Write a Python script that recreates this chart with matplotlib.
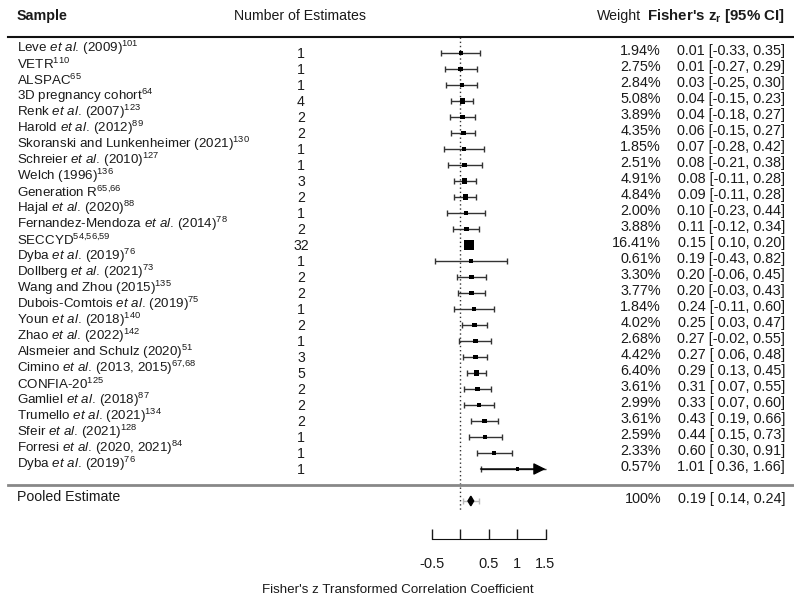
import matplotlib.pyplot as plt
import numpy as np
from matplotlib.transforms import blended_transform_factory

plt.rcParams['font.family'] = ['Liberation Sans', 'DejaVu Sans']
plt.rcParams['mathtext.fontset'] = 'custom'
plt.rcParams['mathtext.rm'] = 'Liberation Sans'
plt.rcParams['mathtext.it'] = 'Liberation Sans:italic'
plt.rcParams['mathtext.bf'] = 'Liberation Sans:bold'

# study data
studies = [
    r"Leve $\mathit{et\ al.}\,\mathrm{(2009)}^{101}$",
    r"VETR$^{110}$",
    r"ALSPAC$^{65}$",
    r"3D pregnancy cohort$^{64}$",
    r"Renk $\mathit{et\ al.}\,\mathrm{(2007)}^{123}$",
    r"Harold $\mathit{et\ al.}\,\mathrm{(2012)}^{89}$",
    r"Skoranski and Lunkenheimer (2021)$^{130}$",
    r"Schreier $\mathit{et\ al.}\,\mathrm{(2010)}^{127}$",
    r"Welch (1996)$^{136}$",
    r"Generation R$^{65{,}66}$",
    r"Hajal $\mathit{et\ al.}\,\mathrm{(2020)}^{88}$",
    r"Fernandez-Mendoza $\mathit{et\ al.}\,\mathrm{(2014)}^{78}$",
    r"SECCYD$^{54{,}56{,}59}$",
    r"Dyba $\mathit{et\ al.}\,\mathrm{(2019)}^{76}$",
    r"Dollberg $\mathit{et\ al.}\,\mathrm{(2021)}^{73}$",
    r"Wang and Zhou (2015)$^{135}$",
    r"Dubois-Comtois $\mathit{et\ al.}\,\mathrm{(2019)}^{75}$",
    r"Youn $\mathit{et\ al.}\,\mathrm{(2018)}^{140}$",
    r"Zhao $\mathit{et\ al.}\,\mathrm{(2022)}^{142}$",
    r"Alsmeier and Schulz (2020)$^{51}$",
    r"Cimino $\mathit{et\ al.}\,\mathrm{(2013{,}\ 2015)}^{67{,}68}$",
    r"CONFIA-20$^{125}$",
    r"Gamliel $\mathit{et\ al.}\,\mathrm{(2018)}^{87}$",
    r"Trumello $\mathit{et\ al.}\,\mathrm{(2021)}^{134}$",
    r"Sfeir $\mathit{et\ al.}\,\mathrm{(2021)}^{128}$",
    r"Forresi $\mathit{et\ al.}\,\mathrm{(2020{,}\ 2021)}^{84}$",
    r"Dyba $\mathit{et\ al.}\,\mathrm{(2019)}^{76}$",
]
n_estimates = [1, 1, 1, 4, 2, 2, 1, 1, 3, 2, 1, 2, 32, 1, 2, 2, 1, 2, 1, 3, 5, 2, 2, 2, 1, 1, 1]
weights = [1.94, 2.75, 2.84, 5.08, 3.89, 4.35, 1.85, 2.51, 4.91, 4.84, 2.00, 3.88, 16.41,
           0.61, 3.30, 3.77, 1.84, 4.02, 2.68, 4.42, 6.40, 3.61, 2.99, 3.61, 2.59, 2.33, 0.57]
est = [0.01, 0.01, 0.03, 0.04, 0.04, 0.06, 0.07, 0.08, 0.08, 0.09, 0.10, 0.11, 0.15, 0.19,
       0.20, 0.20, 0.24, 0.25, 0.27, 0.27, 0.29, 0.31, 0.33, 0.43, 0.44, 0.60, 1.01]
ci_lo = [-0.33, -0.27, -0.25, -0.15, -0.18, -0.15, -0.28, -0.21, -0.11, -0.11, -0.23, -0.12,
         0.10, -0.43, -0.06, -0.03, -0.11, 0.03, -0.02, 0.06, 0.13, 0.07, 0.07, 0.19, 0.15,
         0.30, 0.36]
ci_hi = [0.35, 0.29, 0.30, 0.23, 0.27, 0.27, 0.42, 0.38, 0.28, 0.28, 0.44, 0.34, 0.20, 0.82,
         0.45, 0.43, 0.60, 0.47, 0.55, 0.48, 0.45, 0.55, 0.60, 0.66, 0.73, 0.91, 1.66]

pooled_est, pooled_lo, pooled_hi = 0.19, 0.14, 0.24
pred_lo, pred_hi = 0.05, 0.33
x_ticks = [-0.5, 0, 0.5, 1, 1.5]
x_ticklabels = ['-0.5', '', '0.5', '1', '1.5']
alim = 1.5

txt = '#1a1a1a'
fs = 9.6
fs_col = 10.4
k = len(studies)
rows = np.arange(k)
pooled_row = k + 1

fig = plt.figure(figsize=(7.94, 6.03), dpi=100)
ax = fig.add_axes([0, 0, 1, 1])
ax.set_xlim(-460 / 57, (794 - 460) / 57)
ax.set_ylim((603 - 53) / 16, -53 / 16)
for s in ['left', 'top', 'right']:
    ax.spines[s].set_visible(False)
ax.set_yticks([])

# confidence intervals
lo = np.array(ci_lo)
hi = np.array(ci_hi)
hi_clip = np.minimum(hi, alim)
ax.hlines(rows, lo, hi_clip, color='#333333', lw=1)
ax.plot(lo, rows, '|', color='#333333', ms=4.5, mew=1)
inside = hi <= alim
ax.plot(hi[inside], rows[inside], '|', color='#333333', ms=4.5, mew=1)
for r in rows[~inside]:
    ax.annotate('', xy=(alim, r), xytext=(lo[r], r),
                arrowprops=dict(arrowstyle='-|>,head_length=0.6,head_width=0.3',
                                mutation_scale=12, color='black', lw=1,
                                shrinkA=0, shrinkB=0))

# squares sized by weight
w = np.array(weights)
cex = 0.5 + (w - w.min()) / (w.max() - w.min())
side_pt = 6.7 * cex / 1.389
ax.scatter(est, rows, marker='s', s=side_pt ** 2, color='black', linewidths=0, zorder=3)

# reference line
ax.vlines(0, -1, pooled_row + 0.7, colors='#333333', linestyles=(0, (1, 2)), lw=1)

# pooled estimate
ax.hlines(pooled_row, pred_lo, pred_hi, color='#bbbbbb', lw=1)
ax.plot([pred_lo, pred_hi], [pooled_row, pooled_row], '|', color='#bbbbbb', ms=4.5, mew=1)
ax.fill([pooled_lo, pooled_est, pooled_hi, pooled_est],
        [pooled_row, pooled_row - 0.3, pooled_row, pooled_row + 0.3],
        color='black', zorder=3)

# horizontal rules
ax.axhline(-1, xmin=8 / 794, xmax=1, color='#111111', lw=1.5)
ax.axhline(k, xmin=8 / 794, xmax=1, color='#888888', lw=2)

# text columns
tr = blended_transform_factory(ax.transAxes, ax.transData)
x_lab, x_cnt, x_wt, x_ci = 17 / 794, 301 / 794, 661 / 794, 785 / 794
for i in rows:
    ax.text(x_lab, i - 0.3, studies[i], transform=tr, ha='left', va='center',
            fontsize=fs, color=txt)
    ax.text(x_cnt, i + 0.05, str(n_estimates[i]), transform=tr, ha='center',
            va='center', fontsize=10.2, color=txt)
    ax.text(x_wt, i - 0.15, f"{weights[i]:.2f}%", transform=tr, ha='right',
            va='center', fontsize=fs_col, color=txt)
    ax.text(x_ci, i - 0.15, f"{est[i]:.2f} [{ci_lo[i]:5.2f}, {ci_hi[i]:.2f}]",
            transform=tr, ha='right', va='center', fontsize=fs_col, color=txt)

ax.text(x_lab, pooled_row - 0.25, "Pooled Estimate", transform=tr, ha='left',
        va='center', fontsize=10.2, color=txt)
ax.text(x_wt, pooled_row - 0.15, "100%", transform=tr, ha='right', va='center',
        fontsize=fs_col, color=txt)
ax.text(x_ci, pooled_row - 0.15,
        f"{pooled_est:.2f} [{pooled_lo:5.2f}, {pooled_hi:.2f}]",
        transform=tr, ha='right', va='center', fontsize=fs_col, color=txt)

# headers
hy = -2.3
ax.text(x_lab, hy, "Sample", transform=tr, ha='left', va='center',
        fontsize=10.3, fontweight='bold', color=txt)
ax.text(300 / 794, hy, "Number of Estimates", transform=tr, ha='center',
        va='center', fontsize=10.2, color=txt)
ax.text(641 / 794, hy, "Weight", transform=tr, ha='right', va='center',
        fontsize=10.2, color=txt)
ax.text(647 / 794, hy, r"Fisher's $\mathbf{z}_\mathbf{r}$ [95% CI]", transform=tr,
        ha='left', va='center', fontsize=10.8, fontweight='bold', color=txt)

# x axis
ax.spines['bottom'].set_position(('data', 30.375))
ax.spines['bottom'].set_bounds(x_ticks[0], x_ticks[-1])
ax.spines['bottom'].set_color('#111111')
ax.set_xticks(x_ticks)
ax.set_xticklabels(x_ticklabels)
ax.tick_params(axis='x', direction='in', length=7.2, width=1, pad=13,
               labelsize=10.5, colors=txt)
fig.text(398 / 794, 1 - 590 / 603, "Fisher's z Transformed Correlation Coefficient",
         ha='center', va='center', fontsize=9.6, color=txt)

fig.savefig('out.png', dpi=100)
